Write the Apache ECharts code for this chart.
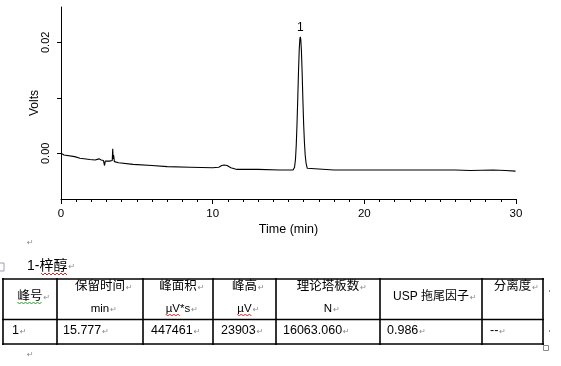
<!DOCTYPE html>
<html><head><meta charset="utf-8">
<script src="https://cdn.jsdelivr.net/npm/echarts@6/dist/echarts.min.js"></script>
<style>html,body{margin:0;padding:0;background:#fff}#c{width:561px;height:366px}</style>
</head><body><div id="c"></div>
<script>
// ---- chromatogram trace (time in min, signal in volts) ----
const frontTimes = [0.00, 0.20, 0.90, 1.25, 1.90, 2.25, 2.35, 2.50, 2.65, 2.80, 2.87, 2.92, 3.20, 3.38, 3.41, 3.44, 3.47, 3.52, 3.80, 4.75, 6.00, 7.00, 8.50, 10.00, 10.40, 10.60, 10.75, 10.95, 11.20, 11.60, 13.00, 14.40, 15.30];
const frontVolts = [0.0000, -0.0003, -0.0006, -0.0009, -0.0011, -0.0012, -0.0009, -0.0010, -0.0012, -0.0013, -0.0022, -0.0014, -0.0014, -0.0013, 0.0008, -0.0010, -0.0003, -0.0015, -0.0017, -0.0020, -0.0022, -0.0024, -0.0025, -0.0026, -0.0025, -0.0022, -0.0021, -0.0022, -0.0026, -0.0029, -0.0029, -0.0030, -0.0030];
const peakTimes = [15.40, 15.46, 15.51, 15.56, 15.61, 15.66, 15.71, 15.75, 15.78, 15.81, 15.85, 15.90, 15.95, 16.00, 16.05, 16.10, 16.16, 16.24, 16.35];
const peakVolts = [-0.0025, -0.0011, 0.0014, 0.0052, 0.0098, 0.0148, 0.0188, 0.0206, 0.0210, 0.0205, 0.0186, 0.0145, 0.0095, 0.0052, 0.0020, -0.0003, -0.0018, -0.0027, -0.0030];
const tailTimes = [18.0, 20.0, 22.0, 24.0, 26.0, 27.0, 28.5, 29.3, 29.97];
const tailVolts = [-0.0030, -0.0030, -0.0030, -0.0030, -0.0030, -0.0031, -0.0030, -0.0031, -0.0032];
const peakLabels = ['1'];
const xTickValues = [0, 10, 20, 30];
const yTickValues = [0, 0.01, 0.02];
const yLabelValues = [0, 0.02];

// ---- result table ----
const sampleTitle = '1-梓醇';
const headerNames = ['峰号', '保留时间', '峰面积', '峰高', '理论塔板数', 'USP 拖尾因子', '分离度'];
const headerUnits = ['', 'min', 'µV*s', 'µV', 'N', '', ''];
const rowValues = ['1', '15.777', '447461', '23903', '16063.060', '0.986', '--'];

const trace = [];
[[frontTimes, frontVolts], [peakTimes, peakVolts], [tailTimes, tailVolts]].forEach(([t, v]) => {
  t.forEach((x, i) => trace.push([x, v[i]]));
});
let pk = 0;
peakVolts.forEach((v, i) => { if (v > peakVolts[pk]) pk = i; });

const chart = echarts.init(document.getElementById('c'), null, {renderer: 'canvas'});

// layout helpers for the table
const colX = [3, 57, 143, 213, 276, 380, 482, 543];
const rowY = [279, 319.5, 344];
const cjkFont = '"Liberation Sans", "Noto Sans CJK SC", sans-serif';
const mctx = document.createElement('canvas').getContext('2d');
function measure(text, size) { mctx.font = size + 'px ' + cjkFont; return mctx.measureText(text).width; }
const gfx = [];
function txt(x, y, text, size, color, align) {
  gfx.push({type: 'text', x: x, y: y, silent: true,
    style: {text: text, fontSize: size, fontFamily: cjkFont, fill: color || '#000', align: align || 'left', verticalAlign: 'middle'}});
}
function ret(x, y) {
  gfx.push({type: 'text', x: x, y: y, silent: true,
    style: {text: '↵', fontSize: 8, fontFamily: 'DejaVu Sans', fill: '#8a8a8a', align: 'left', verticalAlign: 'middle'}});
}
function wave(x1, x2, y, color) {
  const pts = [];
  let up = true;
  for (let x = x1; x <= x2; x += 2) { pts.push([x, up ? y : y + 2]); up = !up; }
  gfx.push({type: 'polyline', silent: true, shape: {points: pts}, style: {stroke: color, lineWidth: 1, fill: null}});
}
function line(x1, y1, x2, y2, w, c) {
  gfx.push({type: 'line', silent: true, shape: {x1: x1, y1: y1, x2: x2, y2: y2}, style: {stroke: c || '#000', lineWidth: w || 1.6}});
}

// paragraph marks / title
ret(27, 243);
txt(27, 266, sampleTitle, 14, '#000', 'left');
const titleW = measure(sampleTitle, 14);
ret(27 + titleW + 1, 267);
wave(41, 67, 273, '#e02020');
// table handle
gfx.push({type: 'rect', silent: true, shape: {x: -3, y: 263, width: 7, height: 8}, style: {fill: null, stroke: '#9aa0b0', lineWidth: 1}});

// table borders
rowY.forEach(y => line(colX[0] - 1, y, colX[colX.length - 1] + 1, y));
colX.forEach(x => line(x, rowY[0] - 1, x, rowY[2] + 1));
// resize handle + end-of-row marks
gfx.push({type: 'rect', silent: true, shape: {x: 543.5, y: 345.5, width: 5, height: 5}, style: {fill: '#fff', stroke: '#8a8a8a', lineWidth: 1}});
gfx.push({type: 'rect', silent: true, shape: {x: 549, y: 290, width: 1, height: 2}, style: {fill: '#8a8a8a'}});
gfx.push({type: 'rect', silent: true, shape: {x: 549, y: 330, width: 1, height: 2}, style: {fill: '#8a8a8a'}});

// header cells
const hSize = 12.5;
headerNames.forEach((name, i) => {
  const cx = (colX[i] + colX[i + 1]) / 2;
  const unit = headerUnits[i];
  let y1;
  if (i === 0 || i === 5) y1 = 297; else y1 = 287;
  const size = i === 5 ? 12 : hSize;
  txt(cx, y1, name, size, '#000', 'center');
  const w = measure(name, size);
  ret(cx + w / 2 + 1, y1 + 1);
  if (unit) {
    txt(cx, 308.5, unit, 11.5, '#000', 'center');
    const uw = measure(unit, 11.5);
    ret(cx + uw / 2 + 1, 309.5);
    if (unit.indexOf('µV') === 0) wave(cx - uw / 2, cx - uw / 2 + measure('µV', 11.5), 314, '#e02020');
  }
  if (i === 0) wave(cx - w / 2, cx + w / 2, 302, '#2a9a2a');
});
// data row
const dataPad = [9, 6, 8, 8, 7, 7, 8];
rowValues.forEach((v, i) => {
  const x = colX[i] + dataPad[i];
  txt(x, 331, v, 12.5, '#000', 'left');
  ret(x + measure(v, 12.5) + 1, 332);
});
ret(27, 355);

const axisFont = '"Liberation Sans", Arial, sans-serif';
chart.setOption({
  animation: false,
  backgroundColor: '#fff',
  grid: {left: 61, right: 45, top: 7, height: 192, containLabel: false},
  xAxis: {
    type: 'value', min: 0, max: 30, interval: 10,
    name: 'Time (min)', nameLocation: 'middle', nameGap: 24, nameMoveOverlap: false,
    nameTextStyle: {fontSize: 12.5, fontFamily: axisFont, color: '#000'},
    axisLine: {onZero: false, lineStyle: {color: '#000', width: 1}},
    axisTick: {show: true, length: 5, lineStyle: {color: '#000'}},
    minorTick: {show: true, splitNumber: 10, length: 3, lineStyle: {color: '#000'}},
    splitLine: {show: false},
    axisLabel: {margin: 9, fontSize: 11.5, fontFamily: axisFont, color: '#000',
      customValues: xTickValues}
  },
  yAxis: {
    type: 'value', min: -0.00823, max: 0.02636,
    name: 'Volts', nameLocation: 'middle', nameGap: 20, nameRotate: 90, nameMoveOverlap: false,
    nameTextStyle: {fontSize: 12, fontFamily: axisFont, color: '#000'},
    axisLine: {show: true, lineStyle: {color: '#000', width: 1}},
    axisTick: {show: true, length: 4, lineStyle: {color: '#000'}, customValues: yTickValues},
    splitLine: {show: false},
    axisLabel: {rotate: 90, margin: 10, fontSize: 11, fontFamily: axisFont, color: '#000',
      customValues: yLabelValues, formatter: v => v.toFixed(2)}
  },
  series: [{
    type: 'line', data: trace, showSymbol: false, smooth: false,
    lineStyle: {color: '#000', width: 1.1}, itemStyle: {color: '#000'},
    markPoint: {
      symbol: 'circle', symbolSize: 0,
      label: {show: true, position: 'top', distance: 3, color: '#000', fontSize: 12, fontFamily: axisFont,
        formatter: p => p.name},
      data: [{name: peakLabels[0], coord: [peakTimes[pk], peakVolts[pk]]}]
    }
  }],
  graphic: gfx
});
</script></body></html>
